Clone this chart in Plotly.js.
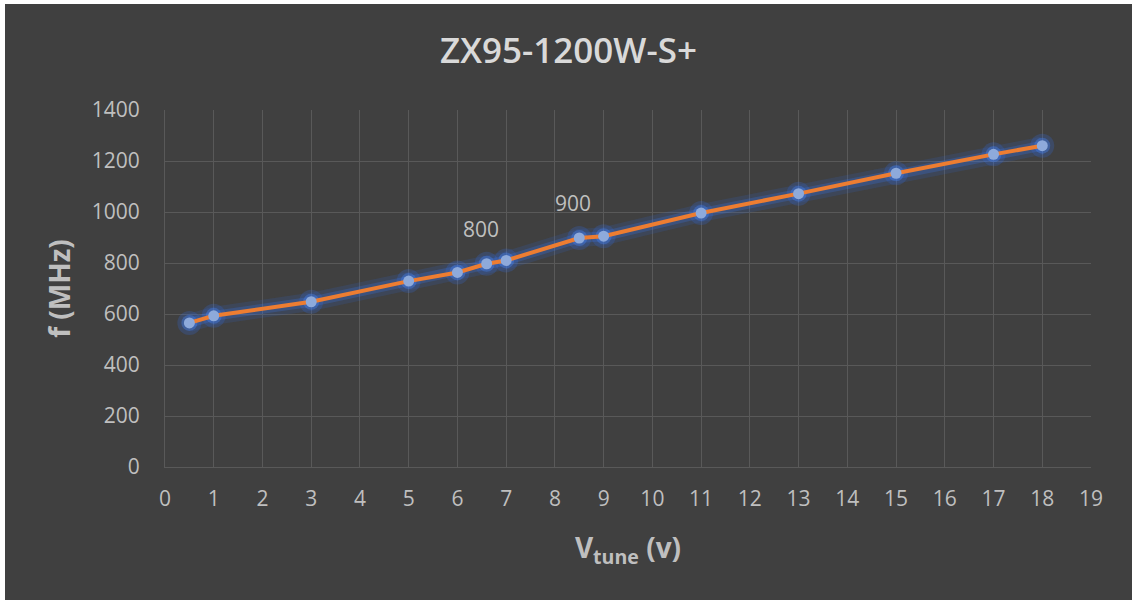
<!DOCTYPE html>
<html>
<head>
<meta charset="utf-8">
<script src="https://cdn.plot.ly/plotly-3.0.1.min.js"></script>
<style>
  html, body { margin: 0; padding: 0; background: #ffffff; }
  #chart { position: absolute; left: 5px; top: 4px; width: 1127px; height: 596px; }
</style>
</head>
<body>
<div id="chart"></div>
<script>
// Data
const vtune = [0.5, 1, 3, 5, 6, 6.6, 7, 8.5, 9, 11, 13, 15, 17, 18];
const freqMHz = [565, 593, 648, 729, 763, 797, 810, 898, 905, 996, 1072, 1152, 1226, 1260];
const labelX = [6.6, 8.5];
const labelY = [797, 898];
const labelText = ['800', '900'];
const xTicks = [0,1,2,3,4,5,6,7,8,9,10,11,12,13,14,15,16,17,18,19];
const yTicks = [0,200,400,600,800,1000,1200,1400];

const FONT = 'Open Sans, Noto Sans, sans-serif';

const glow = {
  x: vtune, y: freqMHz, mode: 'lines+markers', type: 'scatter',
  line: {color: 'rgba(50,110,230,0.15)', width: 18},
  marker: {size: 24, color: 'rgba(50,110,230,0.22)'},
  hoverinfo: 'skip', showlegend: false
};
const glow2 = {
  x: vtune, y: freqMHz, mode: 'lines+markers', type: 'scatter',
  line: {color: 'rgba(60,120,235,0.25)', width: 10},
  marker: {size: 16, color: 'rgba(70,130,240,0.4)'},
  hoverinfo: 'skip', showlegend: false
};
const main = {
  x: vtune, y: freqMHz, mode: 'lines+markers', type: 'scatter',
  line: {color: '#ED7D31', width: 4},
  marker: {size: 11, color: '#8EAADB'},
  showlegend: false
};

const annotations = labelX.map((x, i) => ({
  x: x, y: labelY[i], xref: 'x', yref: 'y', text: labelText[i],
  showarrow: false, yshift: 35, xshift: -6,
  font: {family: FONT, size: 21, color: '#bfbfbf'}
}));

const layout = {
  paper_bgcolor: '#404040',
  plot_bgcolor: '#404040',
  margin: {l: 160, r: 41, t: 106, b: 133},
  title: {
    text: 'ZX95-1200W-S+',
    font: {family: FONT, size: 35, color: '#d9d9d9', weight: 600},
    x: 0.5, xanchor: 'center', y: 0.922, yanchor: 'middle'
  },
  xaxis: {
    range: [0, 19], tickvals: xTicks, ticktext: xTicks.map(String),
    showgrid: true, gridcolor: '#595959', gridwidth: 1,
    showline: true, linecolor: '#595959', linewidth: 1,
    zeroline: false, ticks: '', ticklabelstandoff: 13,
    tickfont: {family: FONT, size: 21, color: '#bfbfbf'},
    title: {
      text: '<b>V<sub>tune</sub> (v)</b>', standoff: 27,
      font: {family: FONT, size: 28, color: '#bfbfbf'}
    }
  },
  yaxis: {
    range: [0, 1400], tickvals: yTicks, ticktext: yTicks.map(String),
    showgrid: true, gridcolor: '#595959', gridwidth: 1,
    showline: true, linecolor: '#595959', linewidth: 1,
    zeroline: false, ticks: '', ticklabelstandoff: 20,
    tickfont: {family: FONT, size: 21, color: '#bfbfbf'},
    title: {
      text: '<b>f (MHz)</b>', standoff: 12,
      font: {family: FONT, size: 28, color: '#bfbfbf'}
    }
  },
  annotations: annotations
};

Plotly.newPlot('chart', [glow, glow2, main], layout, {displayModeBar: false, staticPlot: true});
</script>
</body>
</html>
